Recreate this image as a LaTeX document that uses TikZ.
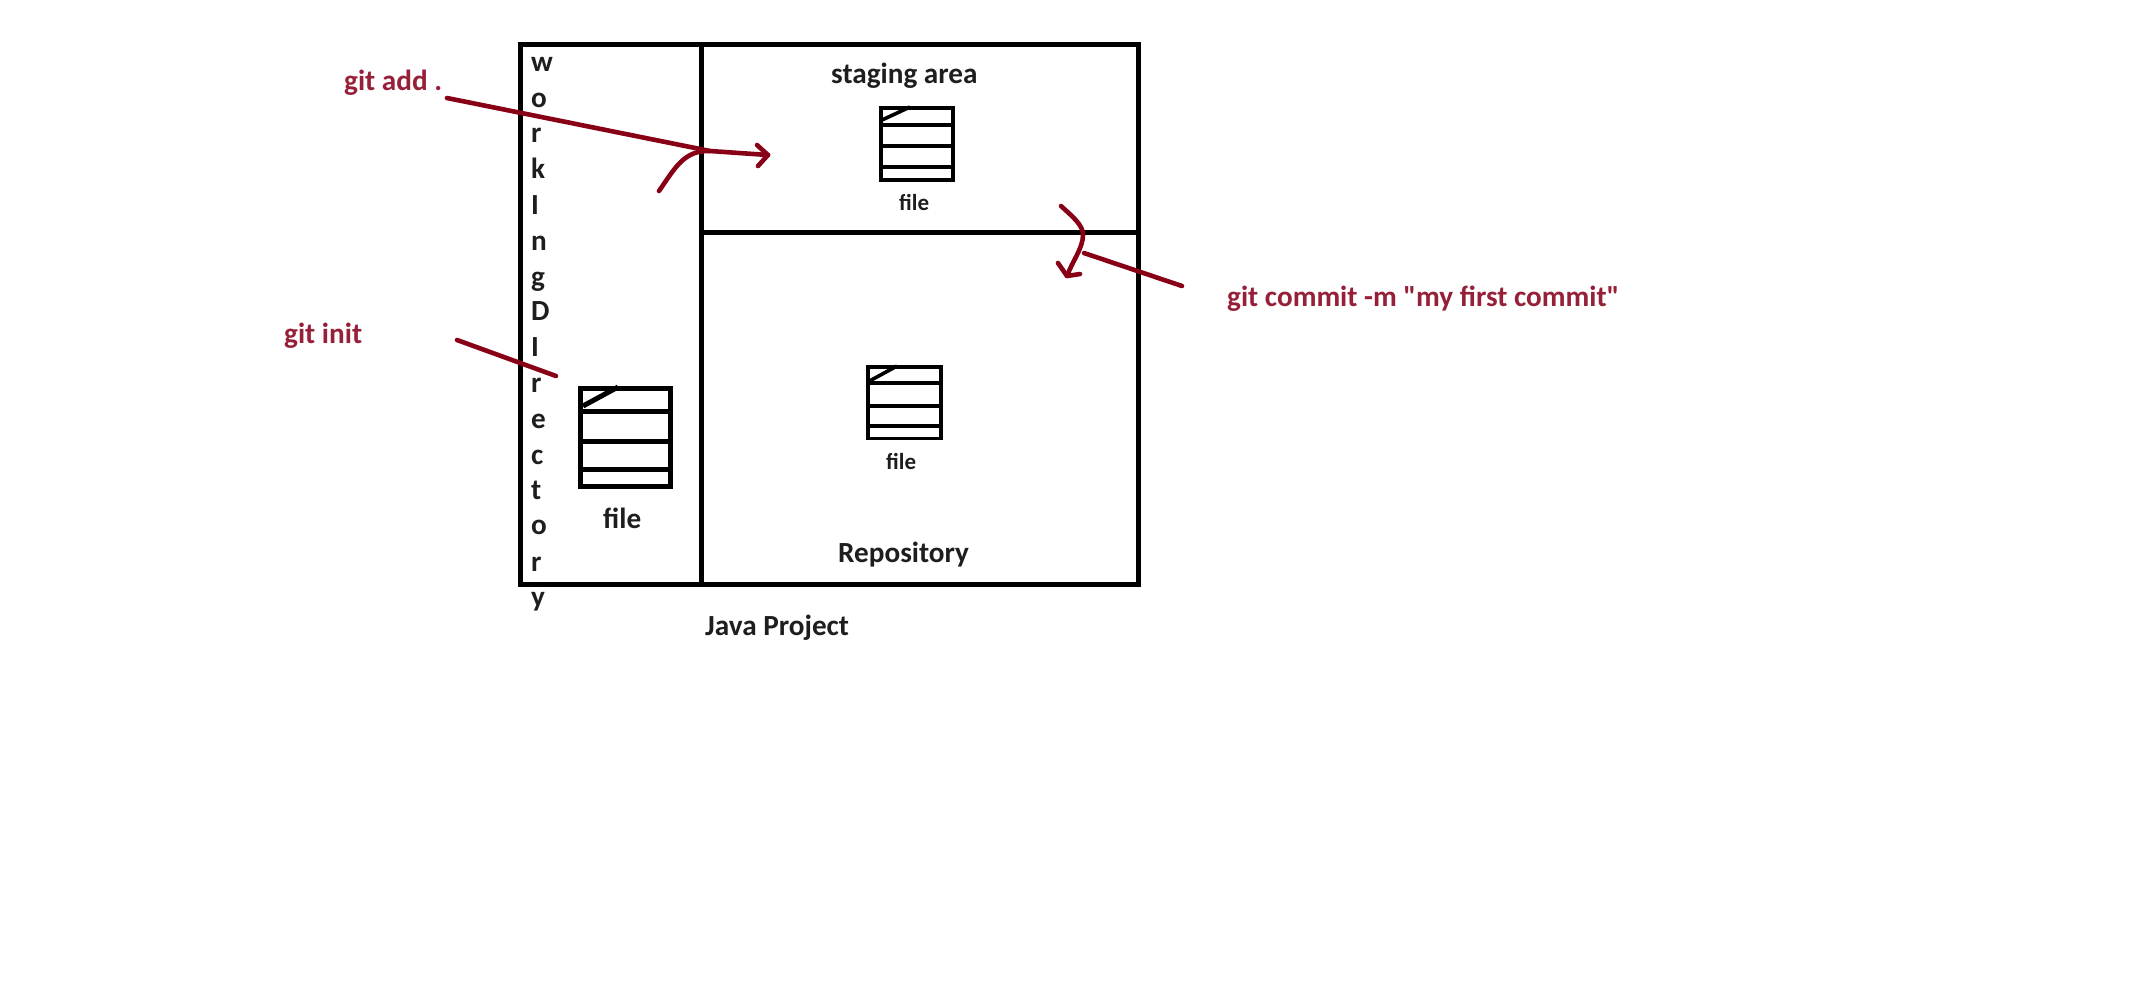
\documentclass[tikz,border=0pt]{standalone}
\usepackage{fontspec}
\setmainfont{Carlito}[Ligatures=TeXOff]
\tikzset{
  lbl/.style={anchor=base west,inner sep=0pt,font=\bfseries\fontsize{29.2}{32}\selectfont,text=ink},
  smalllbl/.style={lbl,font=\bfseries\fontsize{23}{26}\selectfont},
  cmd/.style={lbl,text=cmdred},
  frame/.style={draw=black,line width=5pt},
  pen/.style={draw=penred,line width=4.6pt,line cap=round,line join=round},
  thinicon/.style={draw=black,line width=3.6pt},
  bigicon/.style={draw=black,line width=5pt},
}
\definecolor{ink}{HTML}{1E1E1E}
\definecolor{cmdred}{HTML}{962038}
\definecolor{penred}{HTML}{880015}
\begin{document}
\begin{tikzpicture}[x=1pt,y=-1pt]
\useasboundingbox[fill=white] (0,0) rectangle (2156,997);
% frame
\draw[frame] (520.5,44.7) rectangle (1138,584);
\draw[frame] (701.6,44.7) -- (701.6,584);
\draw[frame] (704,232) -- (1138,232);
% file icons
\draw[bigicon] (580.5,388.5) rectangle (670,486);
\draw[bigicon] (580.5,411) -- (670,411) (580.5,441) -- (670,441) (580.5,469) -- (670,469);
\draw[bigicon] (583,406) -- (618,387);
\draw[thinicon] (881,108) rectangle (953,180);
\draw[thinicon] (881,125) -- (953,125) (881,146) -- (953,146) (881,167) -- (953,167);
\draw[thinicon] (882,120) -- (910,107);
\draw[thinicon] (868,367) rectangle (941,438.5);
\draw[thinicon] (868,383) -- (941,383) (868,406) -- (941,406) (868,426) -- (941,426);
\draw[thinicon] (869.5,381) -- (897,366);
% labels
\node[lbl] (staging) at (831,83) {staging area};
\node[smalllbl] (fileS) at (899,210) {file};
\node[lbl] (repo) at (838,562) {Repository};
\node[smalllbl] (fileR) at (886,469) {file};
\node[lbl] (fileW) at (603,528) {file};
\node[lbl] (java) at (705,635) {Java Project};
\foreach \c/\b [count=\i] in {w/71,o/107,r/142,k/178,I/214,n/250,g/286,D/320,I/356,r/392,e/428,c/464,t/499,o/534,r/571,y/606}{
  \node[lbl] (wd\i) at (531,\b) {\c};
}
\node[cmd] (add) at (344,90) {git add .};
\node[cmd] (init) at (284,343) {git init};
\node[cmd] (commit) at (1227,306) {git commit -m "my first commit"};
% pen strokes
\coordinate (a1) at (447,98);
\coordinate (a2) at (710,151);
\coordinate (a3) at (768,155);
\coordinate (a4) at (659,191);
\coordinate (a5) at (757,145);
\coordinate (a6) at (758,166);
\draw[pen] (a1) -- (a2) -- (a3);
\draw[pen] (a5) -- (a3) -- (a6);
\draw[pen] (a4) .. controls (675,168) and (684,150) .. (a2);
\coordinate (b1) at (1061,206);
\coordinate (b2) at (1083,235);
\coordinate (b3) at (1067,276);
\coordinate (b4) at (1058,263);
\coordinate (b5) at (1080,274);
\draw[pen] (b1) .. controls (1073,217) and (1083,225) .. (b2) .. controls (1083,248) and (1072,262) .. (b3);
\draw[pen] (b4) -- (b3) -- (b5);
\coordinate (c1) at (1084,253);
\coordinate (c2) at (1182,286);
\draw[pen] (c1) -- (c2);
\coordinate (d1) at (457,340);
\coordinate (d2) at (556,376);
\draw[pen] (d1) -- (d2);
\end{tikzpicture}
\end{document}
